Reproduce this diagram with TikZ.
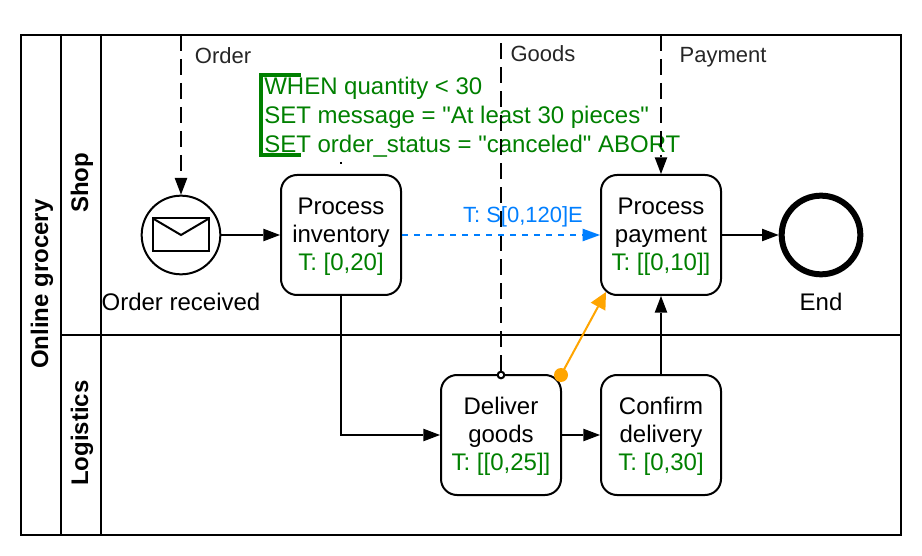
\documentclass[tikz,border=0pt]{standalone}
\usepackage{fontspec}
\setmainfont{Liberation Sans}
\newfontfamily\plainf{Liberation Sans}
\usetikzlibrary{arrows.meta,shapes.geometric}
\definecolor{grn}{RGB}{0,128,0}
\definecolor{blu}{RGB}{0,127,255}
\definecolor{org}{RGB}{255,165,0}
\newcommand{\fs}{\fontsize{18}{21.7}\selectfont}
\newcommand{\fsb}{\fontsize{16.5}{19}\selectfont}
\tikzset{
  x=0.75pt,y=-0.75pt,
  ln/.style={draw=black,line width=1.5pt},
  task/.style={draw=black,line width=1.5pt,rounded corners=12pt,minimum width=90pt,minimum height=90pt,inner sep=0pt,align=center,font=\fs},
  lbl/.style={font=\fs,inner sep=0pt,text=black},
  elbl/.style={font=\fsb,inner sep=0pt,text=black!85},
  hdr/.style={font=\fs\bfseries,inner sep=0pt,rotate=90},
  tip/.style={-{Triangle[length=12.5pt,width=9.5pt,line width=0pt]}},
  flow/.style={line width=1.5pt,tip},
  msg/.style={line width=1.5pt,dash pattern=on 12pt off 6pt,tip},
}
\begin{document}
\begin{tikzpicture}
\useasboundingbox (0,0) rectangle (922,556);
\fill[white] (0,0) rectangle (922,556);
\draw[ln] (21,35) rectangle (901,535);
\draw[ln] (61,35) -- (61,535);
\draw[ln] (101,35) -- (101,535);
\draw[ln] (61,335) -- (901,335);
\node[hdr] (pool) at (42,284) {Online grocery};
\node[hdr] (shop) at (82,183) {Shop};
\node[hdr] (logi) at (82,433) {Logistics};
\coordinate (top1) at (181,35);
\coordinate (top2) at (501,35);
\coordinate (top3) at (661,35);
\node[draw=black,line width=1.5pt,circle,minimum size=59pt,inner sep=0pt] (start) at (181,235) {};
\draw[line width=1.5pt] (153,218.5) rectangle (209,251);
\draw[line width=1.5pt] (153,218.5) -- (181,235) -- (209,218.5);
\node[lbl] (startl) at (181,302) {Order received};
\node[task] (inv) at (341,235) {\rule{0pt}{5pt}\\[-11.5pt]Process\\[-0.5pt]inventory\\[-0.5pt]\textcolor{grn}{T: [0,20]}};
\node[task] (pay) at (661,235) {\rule{0pt}{5pt}\\[-11.5pt]Process\\[-0.5pt]payment\\[-0.5pt]\textcolor{grn}{T: [[0,10]]}};
\node[task] (del) at (501,435) {\rule{0pt}{5pt}\\[-11.5pt]Deliver\\[-0.5pt]goods\\[-0.5pt]\textcolor{grn}{T: [[0,25]]}};
\node[task] (con) at (661,435) {\rule{0pt}{5pt}\\[-11.5pt]Confirm\\[-0.5pt]delivery\\[-0.5pt]\textcolor{grn}{T: [0,30]}};
\node[draw=black,line width=4.5pt,circle,minimum size=59pt,inner sep=0pt] (end) at (821,235) {};
\node[lbl] (endl) at (821,302) {End};
\draw[flow] (start) -- (inv);
\draw[flow] (pay) -- (end);
\draw[flow] (inv.south) |- (del.west);
\draw[flow] (del) -- (con);
\draw[flow] (con) -- (pay);
\node[lbl,text=grn,anchor=west] (a1) at (264,88) {\plainf WHEN quantity < 30};
\node[lbl,text=grn,anchor=west] (a2) at (264,117) {\plainf SET message = "At least 30 pieces"};
\node[lbl,text=grn,anchor=west] (a3) at (264,146) {\plainf SET order\_status = "canceled" ABORT};
\node[lbl,text=blu] (tl) at (523,217) {\fsb T: S[0,120]E};
\draw[msg] (top1) -- (start);
\draw[msg] (top3) -- (pay);
\node[draw=black,line width=1.5pt,circle,fill=white,minimum size=5pt,inner sep=0pt] (dot) at (501,375) {};
\draw[line width=1.5pt,dash pattern=on 12pt off 6pt] (dot) -- (top2);
\node[elbl] (l1) at (223,56) {Order};
\node[elbl] (l2) at (543,54) {Goods};
\node[elbl] (l3) at (723,57) {Payment};
\draw[blu,line width=1.5pt,dash pattern=on 4.5pt off 4.5pt,-{Triangle[length=13pt,width=9.5pt,line width=0pt]}] (inv) -- (pay);
\node[circle,fill=org,minimum size=10.5pt,inner sep=0pt] (odot) at (561,375) {};
\draw[org,line width=1.5pt,-{Triangle[length=12.5pt,width=12.5pt,line width=0pt]}] (odot.center) -- (606,292);
\coordinate (anb) at (341,162);
\draw[grn,line width=3pt] (301,75) -- (261,75) -- (261,155) -- (301,155);
\draw[line width=1.5pt,dash pattern=on 1.5pt off 8pt] (anb) -- (inv.north);
\end{tikzpicture}
\end{document}
